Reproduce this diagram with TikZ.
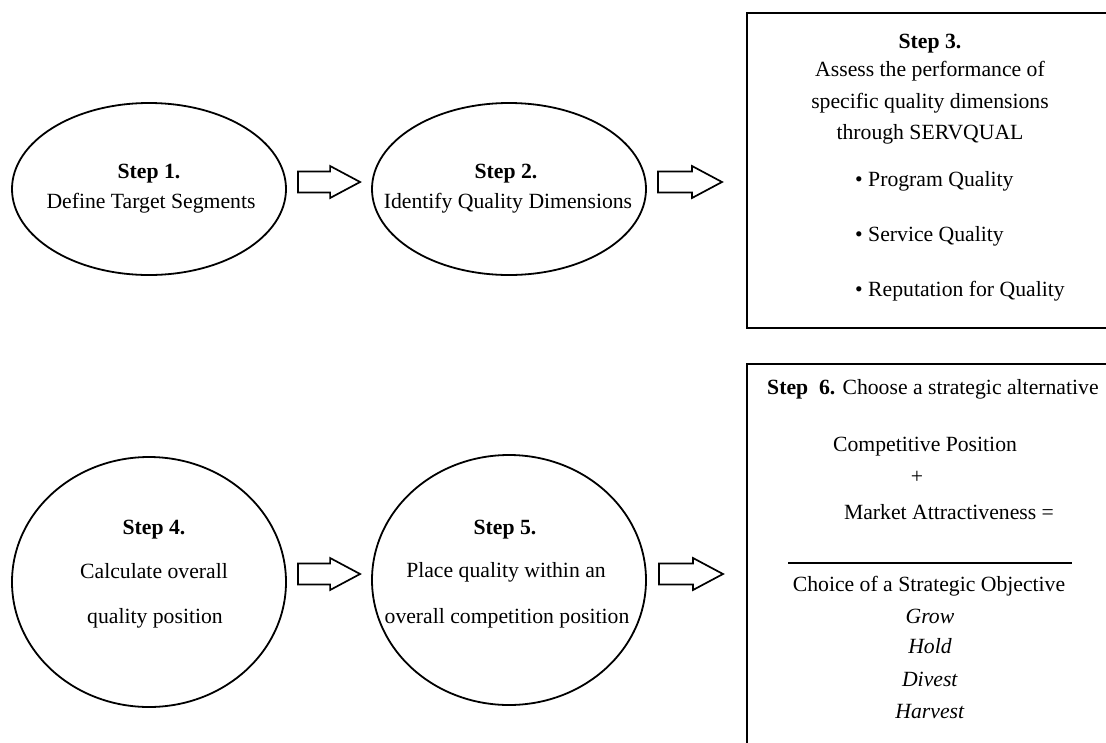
\documentclass[tikz,border=0pt]{standalone}
\usepackage{fontspec}
\setmainfont{Liberation Serif}
\usetikzlibrary{shapes.geometric,calc}

\tikzset{
  stepell/.style={draw, ellipse, line width=1.8pt, minimum width=274pt, inner sep=0pt},
  stepbox/.style={draw, rectangle, line width=1.9pt, anchor=north west, inner sep=0pt},
  ln/.style={anchor=base, inner sep=0pt, font=\fontsize{21.7}{26}\selectfont},
  lnleft/.style={ln, anchor=base west},
  rule/.style={line width=1.5pt},
  blockarrow/.style={draw, line width=1.7pt, line join=miter,
    to path={let \p1=(\tikztostart), \p2=(\tikztotarget) in
      (\x1,\y1+10.5pt) -- (\x2-30pt,\y1+10.5pt) -- (\x2-30pt,\y1+16pt) -- (\x2,\y1)
      -- (\x2-30pt,\y1-16pt) -- (\x2-30pt,\y1-10.5pt) -- (\x1,\y1-10.5pt) -- cycle}},
}

\begin{document}
\begin{tikzpicture}[x=1pt,y=-1pt]
\useasboundingbox (0,0) rectangle (1106,742);
\clip (0,0) rectangle (1106,742);

% ---- top row ----
\node[stepell, minimum height=172pt] (s1) at (149,189) {};
\node[ln] (s1a) at ($(s1)+(0,-11)$) {\textbf{Step 1.}};
\node[ln] (s1b) at ($(s1)+(2,19)$) {Define Target Segments};

\node[stepell, minimum height=172pt] (s2) at (509,189) {};
\node[ln] (s2a) at ($(s2)+(-3,-11)$) {\textbf{Step 2.}};
\node[ln] (s2b) at ($(s2)+(-1,19)$) {Identify Quality Dimensions};

\node[stepbox, minimum width=368pt, minimum height=315pt] (b3) at (746,12) {};
\node[ln] (b3a) at (930,48) {\textbf{Step 3.}};
\node[ln] (b3b) at (930,76) {Assess the performance of};
\node[ln] (b3c) at (930,108) {specific quality dimensions};
\node[ln] (b3d) at (930,139) {through SERVQUAL};
\node[lnleft] (b3e) at (855,186) {\textbullet{} Program Quality};
\node[lnleft] (b3f) at (855,241) {\textbullet{} Service Quality};
\node[lnleft] (b3g) at (855,296) {\textbullet{} Reputation for Quality};

\draw[blockarrow] ([xshift=11pt,yshift=7pt]s1.east) to ([xshift=-11pt]s2.west);
\draw[blockarrow] ([xshift=11pt,yshift=7pt]s2.east) to ([xshift=-24pt]b3.west);

% ---- bottom row ----
\node[stepell, minimum height=250pt] (s4) at (149,582) {};
\node[ln] (s4a) at ($(s4)+(5,-48)$) {\textbf{Step 4.}};
\node[ln] (s4b) at ($(s4)+(5,-4)$) {Calculate overall};
\node[ln] (s4c) at ($(s4)+(6,41)$) {quality position};

\node[stepell, minimum height=250pt] (s5) at (509,580) {};
\node[ln] (s5a) at ($(s5)+(-4,-46)$) {\textbf{Step 5.}};
\node[ln] (s5b) at ($(s5)+(-3,-3)$) {Place quality within an};
\node[ln] (s5c) at ($(s5)+(-2,43)$) {overall competition position};

\node[stepbox, minimum width=368pt, minimum height=400pt] (b6) at (746,363) {};
\node[lnleft] (b6a) at (767,394) {\textbf{Step\ \ 6.} Choose a strategic alternative};
\node[ln] (b6b) at (925,451) {Competitive Position};
\node[ln] (b6c) at (917,483) {+};
\node[ln] (b6d) at (949,519) {Market Attractiveness =};
\coordinate (r1) at (788,563);
\coordinate (r2) at (1072,563);
\draw[rule] (r1) -- (r2);
\node[ln] (b6e) at (929,591) {Choice of a Strategic Objective};
\node[ln] (b6f) at (930,623) {\textit{Grow}};
\node[ln] (b6g) at (930,653) {\textit{Hold}};
\node[ln] (b6h) at (930,686) {\textit{Divest}};
\node[ln] (b6i) at (930,718) {\textit{Harvest}};

\draw[blockarrow] ([xshift=11pt,yshift=8pt]s4.east) to ([xshift=-11pt]s5.west);
\draw[blockarrow] ([xshift=12pt,yshift=6pt]s5.east) to ([xshift=-23pt]b6.west);
\end{tikzpicture}
\end{document}
